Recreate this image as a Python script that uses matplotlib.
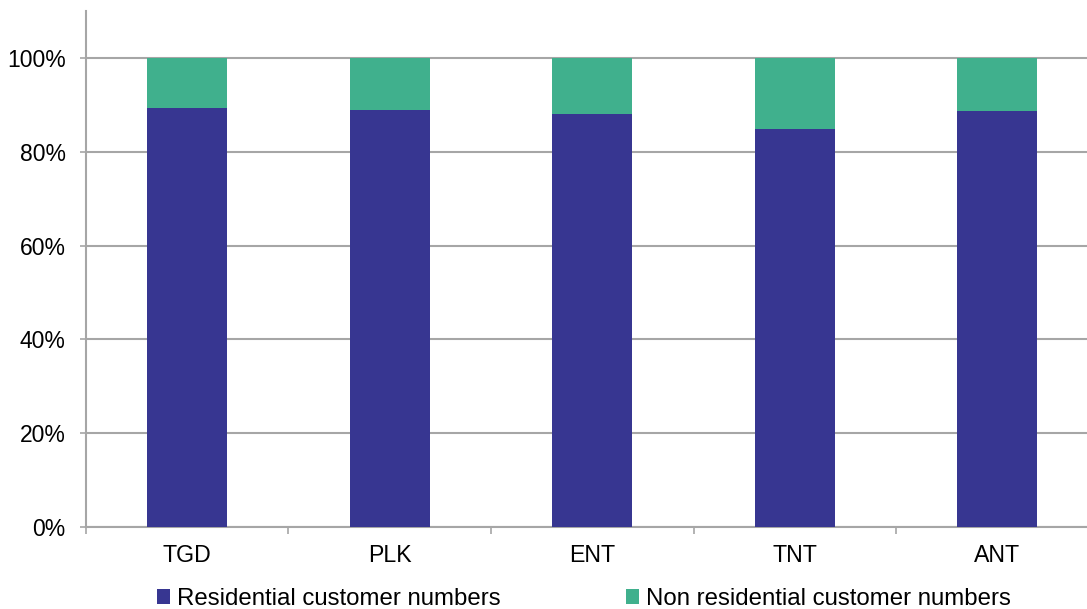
import matplotlib
matplotlib.use("Agg")
import matplotlib.pyplot as plt
from matplotlib.ticker import FixedLocator, FuncFormatter
import numpy as np

plt.rcParams['font.family'] = ['Liberation Sans', 'DejaVu Sans']

categories = ["TGD", "PLK", "ENT", "TNT", "ANT"]
residential = [89.3, 88.9, 88.0, 84.9, 88.6]
non_residential = [100 - v for v in residential]
series_names = ["Residential customer numbers", "Non residential customer numbers"]
colors = ["#373691", "#40B08D"]
grid_color = "#A6A6A6"

fig = plt.figure(figsize=(10.87, 6.09), dpi=100)
ax = fig.add_axes([0.0791, 0.1342, 0.9315, 0.8482])

x = np.arange(len(categories))
res = np.array(residential) / 100
non = np.array(non_residential) / 100
b1 = ax.bar(x, res, width=0.395, color=colors[0], label=series_names[0], zorder=3)
b2 = ax.bar(x, non, width=0.395, bottom=res, color=colors[1], label=series_names[1], zorder=3)

ax.set_xlim(-0.5, len(categories) - 0.5)
ax.set_ylim(0, 1.1)
ax.set_yticks(np.arange(0, 1.01, 0.2))
ax.yaxis.set_major_formatter(FuncFormatter(lambda v, p: f"{v*100:.0f}%"))
ax.yaxis.grid(True, color=grid_color, linewidth=1.5, zorder=0)
ax.set_axisbelow(True)

ax.set_xticks(x)
ax.set_xticklabels(categories)
ax.xaxis.set_minor_locator(FixedLocator(np.arange(-0.5, len(categories), 1.0)))
ax.tick_params(axis='x', which='major', length=0, pad=12, labelsize=16.7)
ax.tick_params(axis='x', which='minor', length=5, width=1.2, color=grid_color)
ax.tick_params(axis='y', which='major', length=4.5, width=1.2, color=grid_color, pad=10, labelsize=16.5)

for s in ["top", "right"]:
    ax.spines[s].set_visible(False)
for s in ["left", "bottom"]:
    ax.spines[s].set_color(grid_color)
    ax.spines[s].set_linewidth(1.5)

fig.legend(handles=[b1, b2], labels=series_names, loc="center left",
           bbox_to_anchor=(0.1445, 0.0165), ncol=2, frameon=False, fontsize=17.3,
           handlelength=0.55, handleheight=0.55, handletextpad=0.3,
           columnspacing=5.2, borderaxespad=0, borderpad=0)

fig.savefig("out.png", dpi=100)
